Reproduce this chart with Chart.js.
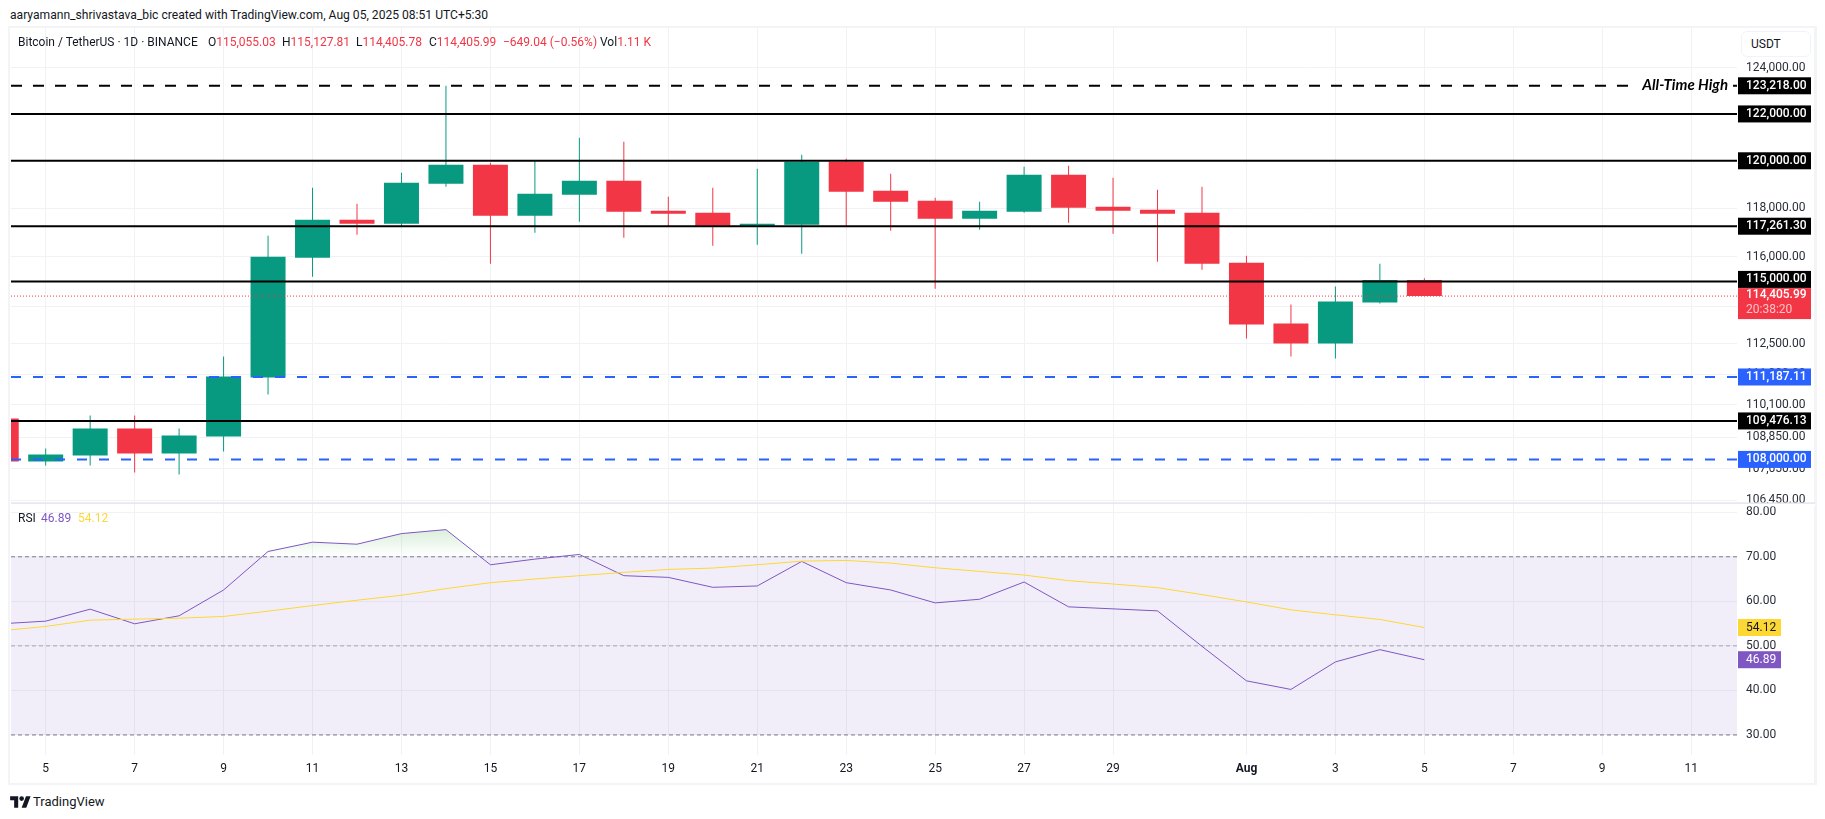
<!DOCTYPE html>
<html>
<head>
<meta charset="utf-8">
<title>BTCUSDT 1D</title>
<script src="https://cdn.jsdelivr.net/npm/chart.js@4/dist/chart.umd.min.js"></script>
<style>
    html, body { margin: 0; padding: 0; background: #fff; width: 1825px; height: 819px; overflow: hidden; }
    body { font-family: Roboto, sans-serif; font-size: 12px; color: #131722; position: relative; }
    #frame { position: absolute; left: 8px; top: 26px; width: 1804px; height: 755px; border: 2px solid #f3f4f6; border-right-width: 3px; }
    #chart { position: absolute; left: 10px; top: 26px; }
    .txt { position: absolute; white-space: nowrap; line-height: 14px; }
    .red { color: #f23645; }
    #usdt { position: absolute; left: 1741px; top: 31px; width: 68px; height: 24px; border: 1px solid #f0f3fa; border-radius: 6px; line-height: 24px; text-indent: 9px; background: #fff; }
    #logo { position: absolute; left: 10px; top: 794px; }
</style>
</head>
<body>
<div id="frame"></div>
<canvas id="chart" width="1805" height="757"></canvas>

<div class="txt" style="left:10px;top:8px;font-size:12.1px">aaryamann_shrivastava_bic created with TradingView.com, Aug 05, 2025 08:51 UTC+5:30</div>
<div class="txt" style="left:18px;top:35px">Bitcoin / TetherUS · 1D · BINANCE</div>
<div class="txt" style="left:208px;top:35px">O<span class="red">115,055.03</span></div>
<div class="txt" style="left:282px;top:35px">H<span class="red">115,127.81</span></div>
<div class="txt" style="left:356px;top:35px">L<span class="red">114,405.78</span></div>
<div class="txt" style="left:429px;top:35px">C<span class="red">114,405.99</span></div>
<div class="txt red" style="left:503px;top:35px">−649.04 (−0.56%)</div>
<div class="txt" style="left:600px;top:35px">Vol<span class="red">1.11 K</span></div>
<div class="txt" style="left:18px;top:511px">RSI</div>
<div class="txt" style="left:41px;top:511px;color:#7e57c2">46.89</div>
<div class="txt" style="left:78px;top:511px;color:#fdd835">54.12</div>
<div id="usdt">USDT</div>
<svg id="logo" width="21" height="15" viewBox="0 0 36 26"><path d="M14 24H7V11H0V4h14v20zM28 24h-8l7.5-20h8L28 24z" fill="#131722"/><circle cx="20" cy="8" r="4" fill="#131722"/></svg>
<div class="txt" style="left:33px;top:795px;font-size:13px">TradingView</div>

<script>
// Days counted from 1 Jul, so 32 is 1 Aug
const days = [4, 5, 6, 7, 8, 9, 10, 11, 12, 13, 14, 15, 16, 17, 18, 19, 20, 21, 22, 23, 24, 25, 26, 27, 28, 29, 30, 31, 32, 33, 34, 35, 36];
const opens = [109571, 107924, 108152, 109186, 108228, 108878, 111166, 115967, 117531, 117366, 119031, 119830, 117696, 118570, 119157, 117904, 117820, 117283, 117324, 119957, 118737, 118320, 117572, 117863, 119409, 118071, 117946, 117820, 115762, 113302, 112506, 114143, 115055.03];
const highs = [109571, 108419, 109687, 109687, 109186, 111992, 116870, 118863, 118195, 119493, 123218, 119915, 120000, 120976, 120806, 118487, 118863, 119662, 120254, 120084, 119451, 118446, 118278, 119746, 119788, 119283, 118779, 118905, 116049, 114063, 114789, 115722, 115127.81];
const lows = [107924, 107772, 107772, 107506, 107430, 108305, 110501, 115193, 116911, 117283, 118905, 115722, 116994, 117448, 116787, 117240, 116460, 116500, 116131, 117283, 117075, 114707, 117116, 117820, 117407, 116952, 115804, 115478, 112704, 111992, 111913, 114103, 114405.78];
const closes = [107924, 108190, 109186, 108228, 108917, 111205, 116008, 117531, 117366, 119072, 119830, 117696, 118612, 119157, 117863, 117779, 117283, 117366, 119957, 118695, 118278, 117572, 117904, 119409, 118029, 117904, 117779, 115722, 113262, 112506, 114183, 115055, 114405.99];
const rsiValues = [54.96, 55.55, 58.24, 54.96, 56.75, 62.55, 71.19, 73.28, 72.83, 75.21, 76.1, 68.21, 69.48, 70.52, 65.76, 65.38, 63.15, 63.45, 68.96, 64.19, 62.55, 59.65, 60.47, 64.34, 58.76, 58.31, 57.86, 49.9, 42.15, 40.22, 46.4, 49.15, 46.89];
const rsiMa = [53.4, 54.36, 55.78, 56, 56.22, 56.6, 57.79, 59.05, 60.25, 61.36, 62.85, 64.19, 65.01, 65.76, 66.5, 67.17, 67.47, 68.21, 69.03, 69.18, 68.59, 67.54, 66.72, 65.9, 64.64, 63.89, 63.07, 61.51, 59.87, 58.09, 56.97, 55.93, 54.12];

const solidLevels = [122000, 120000, 117261.30, 115000, 109476.13];
const allTimeHigh = 123218;
const blueLevels = [111187.11, 108000];
const lastPrice = 114405.99;
const priceTicks = [124000, 122000, 120000, 118000, 116000, 114000, 112500, 111300, 110100, 108850, 107650, 106450];
const rsiTicks = [80, 70, 60, 50, 40, 30];
const timeTicks = [5, 7, 9, 11, 13, 15, 17, 19, 21, 23, 25, 27, 29, 32, 34, 36, 38, 40, 42];
const timeLabels = ['5', '7', '9', '11', '13', '15', '17', '19', '21', '23', '25', '27', '29', 'Aug', '3', '5', '7', '9', '11'];

const GREEN = '#089981';
const RED = '#f23645';
const BLUE = '#2962ff';
const PURPLE = '#7e57c2';
const YELLOW = '#fdd835';
const GRID = '#f0f2f6';
const X_MIN = 4.22;
const X_MAX = 43.03;

const money = (v) => v.toLocaleString('en-US', { minimumFractionDigits: 2, maximumFractionDigits: 2 });
const candleColors = days.map((d, i) => (closes[i] >= opens[i] ? GREEN : RED));

function hLine(value, color, width, dash, axis, extra) {
    return Object.assign({
        type: 'line',
        yAxisID: axis,
        data: [{ x: X_MIN, y: value }, { x: X_MAX, y: value }],
        borderColor: color,
        borderWidth: width,
        borderDash: dash,
        pointRadius: 0,
        fill: false,
        order: 1
    }, extra || {});
}

function rsiLine(values, color, extra) {
    return Object.assign({
        type: 'line',
        yAxisID: 'rsi',
        data: days.map((d, i) => ({ x: d, y: values[i] })),
        borderColor: color,
        borderWidth: 1,
        pointRadius: 0,
        tension: 0,
        fill: false,
        order: 1
    }, extra || {});
}

const rsiDataset = rsiLine(rsiValues, PURPLE, { fill: { target: { value: 70 }, above: 'rgba(76, 175, 80, 0.15)', below: 'transparent' } });

const datasets = [
    // wicks and bodies as floating bars
    { type: 'bar', yAxisID: 'price', data: days.map((d, i) => ({ x: d, y: [lows[i], highs[i]] })), backgroundColor: candleColors, barThickness: 1, inflateAmount: 0, grouped: false, order: 4 },
    { type: 'bar', yAxisID: 'price', data: days.map((d, i) => ({ x: d, y: [opens[i], closes[i]] })), backgroundColor: candleColors, barThickness: 35, inflateAmount: 0, grouped: false, order: 3 },
    hLine(allTimeHigh, '#000', 2, [11, 11], 'price'),
    hLine(lastPrice, RED, 1, [1, 2], 'price', { order: 2 }),
    // RSI band and its guides
    hLine(70, '#787b86', 1, [4, 3], 'rsi', { fill: { target: { value: 30 } }, backgroundColor: 'rgba(126, 87, 194, 0.1)', order: 5 }),
    hLine(50, 'rgba(120, 123, 134, 0.6)', 1, [4, 3], 'rsi', { order: 5 }),
    hLine(30, '#787b86', 1, [4, 3], 'rsi', { order: 5 }),
    rsiLine(rsiMa, YELLOW),
    rsiDataset
];
solidLevels.forEach((v) => datasets.push(hLine(v, '#000', 2, [], 'price')));
blueLevels.forEach((v) => datasets.push(hLine(v, BLUE, 2, [10, 12], 'price')));

function tag(ctx, x, y, w, h, fill) {
    ctx.fillStyle = fill;
    ctx.fillRect(x, y, w, h);
}

// Price tags, the drawing label and the pane divider
const overlays = {
    id: 'overlays',
    afterDraw(chart) {
        const { ctx, chartArea, scales } = chart;
        const price = scales.price;
        const rsi = scales.rsi;
        const tagX = chartArea.right + 1;
        const textX = chartArea.right + 9;
        ctx.save();
        ctx.textBaseline = 'middle';
        ctx.textAlign = 'left';

        // pane divider
        const divider = price.bottom;
        ctx.fillStyle = '#fff';
        ctx.fillRect(chartArea.right, divider, chart.width - chartArea.right, 3);
        ctx.fillStyle = '#e6e4ee';
        ctx.fillRect(chartArea.left, divider - 1, chart.width - chartArea.left, 1.5);

        // label over the all-time-high line
        const athY = price.getPixelForValue(allTimeHigh);
        ctx.fillStyle = '#fff';
        ctx.fillRect(chartArea.right - 107, athY - 3, 103, 6);
        ctx.fillStyle = '#000';
        ctx.font = 'italic 700 15px Lato, sans-serif';
        ctx.textAlign = 'right';
        ctx.fillText('All-Time High', chartArea.right - 9, athY - 1);
        ctx.textAlign = 'left';

        const drawTag = (value, fill, color) => {
            const y = price.getPixelForValue(value) - (value === 115000 ? 2 : 0);
            tag(ctx, tagX, y - 8.5, 73, 17, fill);
            ctx.fillStyle = color;
            ctx.font = '500 12px Roboto, sans-serif';
            ctx.fillText(money(value), textX, y);
        };
        drawTag(allTimeHigh, '#000', '#fff');
        solidLevels.forEach((v) => drawTag(v, '#000', '#fff'));
        blueLevels.forEach((v) => drawTag(v, BLUE, '#fff'));

        // last price with countdown
        const lastY = price.getPixelForValue(lastPrice);
        tag(ctx, tagX, lastY - 8, 73, 31, RED);
        ctx.fillStyle = '#fff';
        ctx.font = '500 12px Roboto, sans-serif';
        ctx.fillText(money(lastPrice), textX, lastY - 1);
        ctx.fillStyle = '#ffc2c7';
        ctx.font = '12px Roboto, sans-serif';
        ctx.fillText('20:38:20', textX, lastY + 14);

        // RSI tags
        const rsiMaLast = rsiMa[rsiMa.length - 1];
        const rsiLast = rsiValues[rsiValues.length - 1];
        tag(ctx, tagX, rsi.getPixelForValue(rsiMaLast) - 8.5, 43, 17, YELLOW);
        ctx.fillStyle = '#131722';
        ctx.fillText(money(rsiMaLast), textX, rsi.getPixelForValue(rsiMaLast));
        tag(ctx, tagX, rsi.getPixelForValue(rsiLast) - 8.5, 43, 17, PURPLE);
        ctx.fillStyle = '#fff';
        ctx.fillText(money(rsiLast), textX, rsi.getPixelForValue(rsiLast));
        ctx.restore();
    }
};

function yAxisFit(scale) {
    scale.width = 78;
    scale.paddingTop = 0;
    scale.paddingBottom = 0;
}

const yTicks = {
    color: '#2a2e39',
    font: { family: 'Roboto, sans-serif', size: 12 },
    padding: 9,
    autoSkip: false,
    callback: (v) => money(v)
};

const btcChart = new Chart(document.getElementById('chart'), {
    data: { datasets: datasets },
    plugins: [overlays],
    options: {
        responsive: false,
        animation: false,
        events: [],
        plugins: { legend: { display: false }, tooltip: { enabled: false } },
        scales: {
            x: {
                type: 'linear',
                offset: false,
                min: X_MIN,
                max: X_MAX,
                grid: { color: GRID, drawTicks: false, offset: false },
                border: { display: false },
                afterBuildTicks: (scale) => { scale.ticks = timeTicks.map((v) => ({ value: v })); },
                afterFit: (scale) => { scale.height = 28; scale.paddingLeft = 0; scale.paddingRight = 0; },
                ticks: {
                    color: '#131722',
                    autoSkip: false,
                    maxRotation: 0,
                    padding: 7,
                    font: (c) => ({ family: 'Roboto, sans-serif', size: 12, weight: c.tick && c.tick.value === 32 ? 'bold' : 'normal' }),
                    callback: (v) => timeLabels[timeTicks.indexOf(v)]
                }
            },
            price: {
                type: 'logarithmic',
                position: 'right',
                stack: 'panes',
                stackWeight: 477,
                min: 106339,
                max: 125800,
                grid: { color: GRID, drawTicks: false },
                border: { display: false },
                afterBuildTicks: (scale) => { scale.ticks = priceTicks.map((v) => ({ value: v })); },
                afterFit: yAxisFit,
                ticks: yTicks
            },
            rsi: {
                type: 'linear',
                position: 'right',
                stack: 'panes',
                stackWeight: 252,
                min: 25.5,
                max: 82,
                grid: { color: GRID, drawTicks: false },
                border: { display: false },
                afterBuildTicks: (scale) => { scale.ticks = rsiTicks.map((v) => ({ value: v })); },
                afterFit: yAxisFit,
                ticks: yTicks
            }
        }
    }
});

// Overbought fill fades out towards the 70 line
const rsiScale = btcChart.scales.rsi;
const overbought = btcChart.ctx.createLinearGradient(0, rsiScale.getPixelForValue(76), 0, rsiScale.getPixelForValue(70));
overbought.addColorStop(0, 'rgba(76, 175, 80, 0.2)');
overbought.addColorStop(1, 'rgba(76, 175, 80, 0)');
rsiDataset.fill.above = overbought;
btcChart.update('none');
</script>
</body>
</html>
